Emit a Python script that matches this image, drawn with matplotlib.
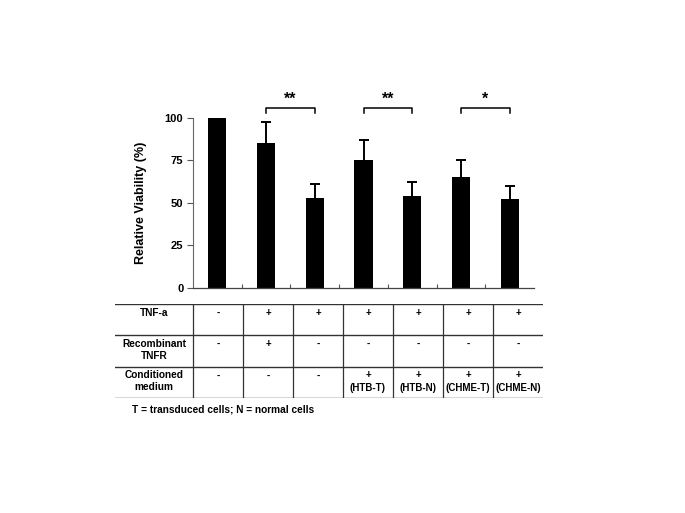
import matplotlib
matplotlib.use("Agg")
import matplotlib.pyplot as plt
import numpy as np

plt.rcParams['font.family'] = ['Liberation Sans', 'DejaVu Sans']
plt.rcParams['font.weight'] = 'bold'

# data
viability = [100, 85, 53, 75.5, 54, 65.5, 52.5]
err_up = [0.5, 12.5, 8, 11.5, 8.3, 10, 7.5]
y_ticks = [0, 25, 50, 75, 100]

# significance brackets: (left bar, right bar, label)
brackets = [(1, 2, '**'), (3, 4, '**'), (5, 6, '*')]

row_labels = ['TNF-a', 'Recombinant\nTNFR', 'Conditioned\nmedium']
tnf = ['-', '+', '+', '+', '+', '+', '+']
tnfr = ['-', '+', '-', '-', '-', '-', '-']
medium = ['-', '-', '-', '+\n(HTB-T)', '+\n(HTB-N)', '+\n(CHME-T)', '+\n(CHME-N)']
footnote = 'T = transduced cells; N = normal cells'

W, H = 685, 513
fig = plt.figure(figsize=(W / 100, H / 100), dpi=100)

def px_rect(x0, y0, x1, y1):
    # pixel box (top-left origin) -> figure fraction
    return [x0 / W, 1 - y1 / H, (x1 - x0) / W, (y1 - y0) / H]

# ---- bar chart ----
ax = fig.add_axes(px_rect(193, 118, 534, 287.7))
x = np.arange(len(viability))
ax.bar(x, viability, width=0.37, color='black', zorder=2)
eb = ax.errorbar(x, viability, yerr=[np.zeros(len(err_up)), err_up], fmt='none',
                 ecolor='black', elinewidth=1.4, capsize=3.5, capthick=1.4, zorder=1)
# only the upper cap is drawn in the original
eb[1][0].set_visible(False)
ax.set_xlim(-0.5, len(viability) - 0.5)
ax.set_ylim(0, 100)
ax.set_yticks(y_ticks)
ax.set_yticklabels([str(t) for t in y_ticks], fontsize=8, fontweight='bold')
ax.set_xticks(np.arange(0.5, len(viability) - 0.5, 1))
ax.set_xticklabels([])
ax.tick_params(axis='x', direction='in', length=3, color='#555555')
ax.tick_params(axis='y', direction='out', length=4, color='#555555', pad=3)
for s in ['top', 'right']:
    ax.spines[s].set_visible(False)
ax.spines['left'].set_color('#666666')
ax.spines['left'].set_linewidth(0.8)
ax.spines['bottom'].set_color('#444444')
ax.spines['bottom'].set_linewidth(0.9)
ax.set_ylabel('Relative Viability (%)', fontsize=9, fontweight='bold', labelpad=13)

for a, b, lab in brackets:
    yb, yt = 103, 106
    ax.plot([a, a, b, b], [yb, yt, yt, yb], color='black', lw=1.1, clip_on=False)
    ax.text((a + b) / 2, yt + 0.8, lab, ha='center', va='bottom',
            fontsize=11.5, fontweight='bold', clip_on=False)

# ---- condition table ----
tax = fig.add_axes(px_rect(115, 304, 543, 398))
tax.set_xlim(-78 / 50, 7)
tax.set_ylim(3, 0)
tax.axis('off')
for yy in [0, 1, 2, 3]:
    tax.axhline(yy, color='#333333', lw=1.0)
for xx in range(0, 7):
    tax.axvline(xx, color='#333333', lw=0.9)

label_x = -39 / 50
for r, lab in enumerate(row_labels):
    tax.text(label_x, r + 0.12, lab, ha='center', va='top', fontsize=7.3,
             fontweight='bold', linespacing=1.25)
for r, row in enumerate([tnf, tnfr, medium]):
    for c, val in enumerate(row):
        tax.text(c + 0.5, r + 0.12, val, ha='center', va='top', fontsize=7,
                 fontweight='bold', linespacing=1.35)

fig.text(132 / W, 1 - 409 / H, footnote, ha='left', va='center',
         fontsize=7.3, fontweight='bold')

fig.savefig('out.png', dpi=100, facecolor='white')
